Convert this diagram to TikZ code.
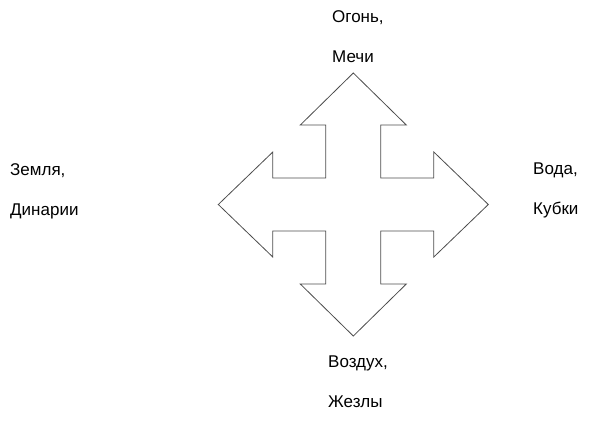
\documentclass[tikz,border=0pt]{standalone}
\usepackage{fontspec}
\setmainfont{Liberation Sans}
\usepackage{tikz}
\usetikzlibrary{positioning}

\begin{document}
\begin{tikzpicture}[x=1pt,y=-1pt,
	label/.style={align=left,anchor=north west,inner sep=0pt,font=\fontsize{17}{40}\selectfont},
	cross/.style={draw=black!70,line width=0.8pt,line join=miter}]
	\useasboundingbox (0,0) rectangle (591,421);
	\coordinate (c) at (353.3,205);
	\draw[cross] (c) ++(0,-132) -- ++(53,52) -- ++(-25.5,0) -- ++(0,53) -- ++(53,0) -- ++(0,-26)
	-- ++(54.5,52.5) -- ++(-54.5,52.5) -- ++(0,-26) -- ++(-53,0) -- ++(0,53) -- ++(25.5,0)
	-- ++(-53,52) -- ++(-53,-52) -- ++(25.5,0) -- ++(0,-53) -- ++(-53,0) -- ++(0,26)
	-- ++(-54.5,-52.5) -- ++(54.5,-52.5) -- ++(0,26) -- ++(53,0) -- ++(0,-53) -- ++(-25.5,0) -- cycle;
	\node[label] (fire) at (332,10) {Огонь,\\Мечи};
	\node[label] (earth) at (10,163) {Земля,\\Динарии};
	\node[label] (water) at (533,163) {Вода,\\Кубки};
	\node[label] (air) at (328,356) {Воздух,\\Жезлы};
\end{tikzpicture}
\end{document}
